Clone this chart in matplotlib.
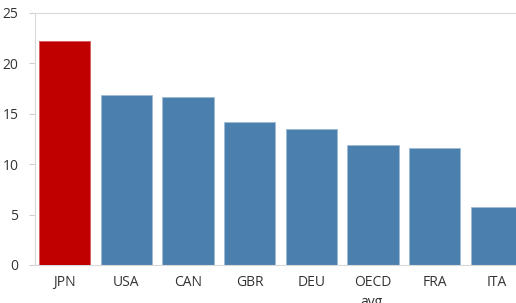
import matplotlib.pyplot as plt

plt.rcParams['font.family'] = ['Open Sans', 'DejaVu Sans']

countries = ['JPN', 'USA', 'CAN', 'GBR', 'DEU', 'OECD\navg.', 'FRA', 'ITA']
values = [22.2, 16.9, 16.7, 14.2, 13.5, 11.9, 11.6, 5.8]
colors = ['#c00000'] + ['#4a7fae'] * 7

fig = plt.figure(figsize=(5.16, 3.03), dpi=100)
ax = fig.add_axes([35 / 516, 38 / 303, 481 / 516, 252 / 303])

x = range(len(countries))
ax.bar(x, values, width=0.83, color=colors, edgecolor='#9fbad3', linewidth=0.6, zorder=2)
ax.bar([0], values[:1], width=0.83, color='#c00000', edgecolor='#e06060', linewidth=0.6, zorder=3)

ax.set_xlim(-0.48, 7.32)
ax.set_ylim(0, 25)
ax.set_yticks([0, 5, 10, 15, 20, 25])
ax.set_xticks(list(x))
ax.set_xticklabels(countries, fontsize=10, color='#333333', linespacing=1.45)
ax.tick_params(axis='y', labelsize=10, colors='#333333', length=4, color='#d0d0d0', pad=8)
ax.tick_params(axis='x', length=0, pad=7)

for side in ['left', 'top', 'bottom']:
    ax.spines[side].set_color('#d9d9d9')
ax.spines['right'].set_visible(False)

# title sits above the visible area, only descenders peek in
fig.text(0.185, 1.0 + 3.5 / 303, 'Average wage growth (%, 2000-2016)', fontsize=10,
         color='#3a8fd0', va='baseline', ha='left')

fig.savefig('out.png', dpi=100)
